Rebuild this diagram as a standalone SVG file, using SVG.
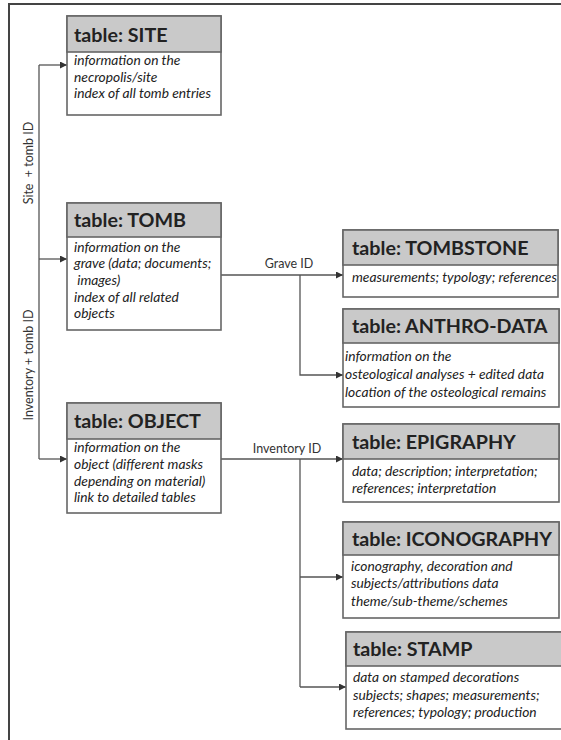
<svg xmlns="http://www.w3.org/2000/svg" width="561" height="740" viewBox="0 0 561 740">
<style>
.box{fill:#fff;stroke:#666;stroke-width:1.6}
.hdr{fill:#c9c9c9;stroke:#666;stroke-width:1.6}
.ttl{font-family:Lato,"Liberation Sans",sans-serif;font-weight:bold;font-size:19.7px;fill:#222}
.bd{font-family:Lato,"Liberation Sans",sans-serif;font-style:italic;font-size:13.8px;fill:#222}
.lbl{font-family:Lato,"Liberation Sans",sans-serif;font-size:12.5px;fill:#333}
.ln{fill:none;stroke:#555;stroke-width:1.3}
</style>
<defs>
<marker id="ah" viewBox="0 0 8 8" refX="8" refY="4" markerWidth="7" markerHeight="7" markerUnits="userSpaceOnUse" orient="auto">
<path d="M0,0 L8,4 L0,8 z" fill="#333"/>
</marker>
</defs>
<rect width="561" height="740" fill="#fff"/>
<path d="M9,740 V4 H561" fill="none" stroke="#444" stroke-width="2"/>

<g id="connectors">
<path class="ln" d="M39,65 V459"/>
<path class="ln" d="M39,65 H67" marker-end="url(#ah)"/>
<path class="ln" d="M39,259 H67" marker-end="url(#ah)"/>
<path class="ln" d="M39,459 H67" marker-end="url(#ah)"/>
<path class="ln" d="M221,275 H343" marker-end="url(#ah)"/>
<path class="ln" d="M300,275 V375 H343" marker-end="url(#ah)"/>
<path class="ln" d="M221,459 H343" marker-end="url(#ah)"/>
<path class="ln" d="M300,459 V687"/>
<path class="ln" d="M300,577 H343" marker-end="url(#ah)"/>
<path class="ln" d="M300,687 H346" marker-end="url(#ah)"/>
<text class="lbl" transform="translate(33,163) rotate(-90)" text-anchor="middle">Site &#160;+ tomb ID</text>
<text class="lbl" transform="translate(33,365) rotate(-90)" text-anchor="middle">Inventory + tomb ID</text>
<text class="lbl" x="289" y="268" text-anchor="middle">Grave ID</text>
<text class="lbl" x="287" y="453" text-anchor="middle">Inventory ID</text>
</g>

<g id="site">
<rect class="box" x="67" y="16" width="154" height="99"/>
<rect class="hdr" x="67" y="16" width="154" height="36"/>
<text class="ttl" x="74" y="42">table: SITE</text>
<text class="bd" x="74" y="65">information on the</text>
<text class="bd" x="74" y="82">necropolis/site</text>
<text class="bd" x="74" y="98">index of all tomb entries</text>
</g>

<g id="tomb">
<rect class="box" x="67" y="203" width="154" height="127"/>
<rect class="hdr" x="67" y="203" width="154" height="34"/>
<text class="ttl" x="74" y="227">table: TOMB</text>
<text class="bd" x="74" y="252">information on the</text>
<text class="bd" x="74" y="268">grave (data; documents;</text>
<text class="bd" x="74" y="285">&#160;images)</text>
<text class="bd" x="74" y="302">index of all related</text>
<text class="bd" x="74" y="318">objects</text>
</g>

<g id="object">
<rect class="box" x="67" y="403" width="154" height="110"/>
<rect class="hdr" x="67" y="403" width="154" height="36"/>
<text class="ttl" x="74" y="428">table: OBJECT</text>
<text class="bd" x="74" y="452">information on the</text>
<text class="bd" x="74" y="469">object (different masks</text>
<text class="bd" x="74" y="486">depending on material)</text>
<text class="bd" x="74" y="502">link to detailed tables</text>
</g>

<g id="tombstone">
<rect class="box" x="343" y="230" width="215" height="67"/>
<rect class="hdr" x="343" y="230" width="215" height="35"/>
<text class="ttl" x="352" y="255">table: TOMBSTONE</text>
<text class="bd" x="352" y="282">measurements; typology; references</text>
</g>

<g id="anthro">
<rect class="box" x="343" y="309" width="216" height="98"/>
<rect class="hdr" x="343" y="309" width="216" height="34"/>
<text class="ttl" x="352" y="333">table: ANTHRO-DATA</text>
<text class="bd" x="345" y="361">information on the</text>
<text class="bd" x="345" y="379">osteological analyses + edited data</text>
<text class="bd" x="345" y="397">location of the osteological remains</text>
</g>

<g id="epigraphy">
<rect class="box" x="343" y="424" width="216" height="78"/>
<rect class="hdr" x="343" y="424" width="216" height="35"/>
<text class="ttl" x="352" y="449">table: EPIGRAPHY</text>
<text class="bd" x="352" y="476">data; description; interpretation;</text>
<text class="bd" x="352" y="493">references; interpretation</text>
</g>

<g id="iconography">
<rect class="box" x="343" y="522" width="216" height="96"/>
<rect class="hdr" x="343" y="522" width="216" height="33"/>
<text class="ttl" x="352" y="546">table: ICONOGRAPHY</text>
<text class="bd" x="351" y="571">iconography, decoration and</text>
<text class="bd" x="351" y="588">subjects/attributions data</text>
<text class="bd" x="351" y="606">theme/sub-theme/schemes</text>
</g>

<g id="stamp">
<rect class="box" x="346" y="632" width="230" height="97"/>
<rect class="hdr" x="346" y="632" width="230" height="34"/>
<text class="ttl" x="353" y="656">table: STAMP</text>
<text class="bd" x="353" y="682">data on stamped decorations</text>
<text class="bd" x="353" y="700">subjects; shapes; measurements;</text>
<text class="bd" x="353" y="717">references; typology; production</text>
</g>
</svg>
